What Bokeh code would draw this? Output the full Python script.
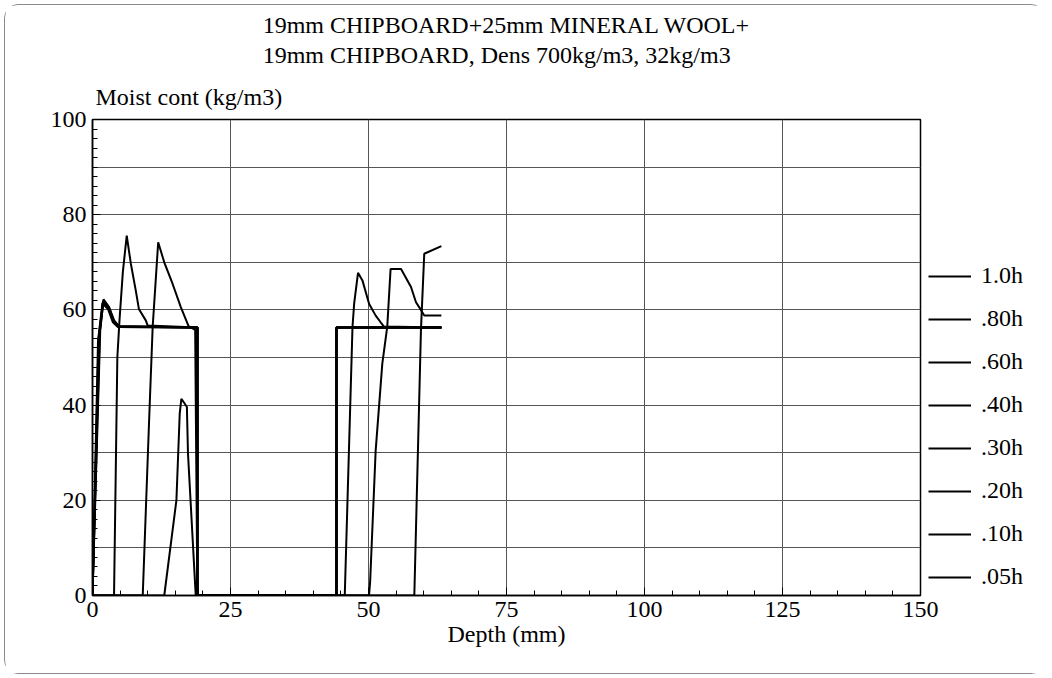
from bokeh.plotting import figure
from bokeh.models import FixedTicker, Legend, LegendItem, Range1d, Title
from bokeh.embed import file_html
from bokeh.resources import INLINE

# ---- data (depth in mm, moisture in kg/m3) ----
labels = ["1.0h", ".80h", ".60h", ".40h", ".30h", ".20h", ".10h", ".05h"]

x_100 = [0, 13.0, 15.2, 15.8, 16.1, 16.6, 17.1, 17.3, 18.7, 58.3, 59.5, 60.1, 63.2]
y_100 = [0, 0, 20.0, 38.2, 41.3, 40.5, 39.6, 29.8, 0, 0, 55.7, 71.8, 73.4]

x_080 = [0, 9.1, 10.3, 10.9, 11.9, 13.0, 14.5, 16.0, 17.4, 18.6, 19.0, 50.1, 50.3, 51.3,
         52.5, 53.4, 54.0, 55.9, 57.7, 58.6, 59.5, 60.1, 63.2]
y_080 = [0, 0, 38.2, 56.4, 74.2, 70.0, 65.5, 60.6, 56.6, 55.8, 0, 0, 3.0, 30.5,
         48.7, 56.5, 68.6, 68.6, 64.8, 61.6, 60.0, 58.8, 58.8]

x_060 = [0, 3.9, 4.5, 4.9, 5.5, 6.2, 6.95, 7.85, 8.4, 9.65, 10.0, 19.0, 19.0, 45.7, 47.1,
         47.4, 48.1, 48.9, 50.1, 51.3, 52.2, 52.8, 63.2]
y_060 = [0, 0, 50.0, 58.0, 68.0, 75.6, 69.7, 64.0, 60.2, 57.8, 56.7, 56.3, 0, 0, 56.4,
         61.3, 67.8, 66.2, 61.3, 58.8, 57.4, 56.5, 56.3]

x_040 = [0, 1.4, 2.0, 3.0, 3.9, 4.8, 19.0, 19.0, 44.2, 44.2, 63.2]
y_040 = [0, 55.7, 62.2, 60.6, 57.8, 56.6, 56.3, 0, 0, 56.3, 56.3]

x_030 = [0, 1.3, 2.0, 3.0, 3.9, 4.8, 19.0, 19.0, 44.2, 44.2, 63.2]
y_030 = [0, 55.0, 62.0, 60.5, 57.7, 56.5, 56.3, 0, 0, 56.3, 56.3]

x_020 = [0, 1.2, 1.9, 2.9, 3.8, 4.7, 19.0, 19.0, 44.2, 44.2, 63.2]
y_020 = [0, 54.5, 61.8, 60.4, 57.6, 56.5, 56.3, 0, 0, 56.3, 56.3]

x_010 = [0, 1.1, 1.9, 2.9, 3.8, 4.7, 19.0, 19.0, 44.2, 44.2, 63.2]
y_010 = [0, 54.0, 61.6, 60.3, 57.5, 56.4, 56.3, 0, 0, 56.3, 56.3]

x_005 = [0, 1.0, 1.8, 2.8, 3.7, 4.6, 19.0, 19.0, 44.2, 44.2, 63.2]
y_005 = [0, 53.5, 61.4, 60.2, 57.4, 56.4, 56.3, 0, 0, 56.3, 56.3]

series_x = [x_100, x_080, x_060, x_040, x_030, x_020, x_010, x_005]
series_y = [y_100, y_080, y_060, y_040, y_030, y_020, y_010, y_005]

x_ticks = [0, 25, 50, 75, 100, 125, 150]
y_ticks = [0, 20, 40, 60, 80, 100]
x_grid = [25, 50, 75, 100, 125]
y_grid = [10, 20, 30, 40, 50, 60, 70, 80, 90]

title_1 = "19mm CHIPBOARD+25mm MINERAL WOOL+"
title_2 = "19mm CHIPBOARD, Dens 700kg/m3, 32kg/m3"
y_title = "Moist cont (kg/m3)"
x_title = "Depth (mm)"

FONT = "Liberation Serif"
FS = "24px"

p = figure(frame_width=828, frame_height=476, x_range=Range1d(0, 150), y_range=Range1d(0, 100),
           output_backend="svg", toolbar_location=None,
           min_border_left=87, min_border_right=126, min_border_top=114, min_border_bottom=78)
p.styles = {"margin-left": "4px", "margin-top": "4px", "width": "1041px",
            "border": "1px solid #8a8a8a", "border-radius": "14px"}
p.background_fill_color = "white"
p.border_fill_color = "white"
p.outline_line_color = "black"
p.outline_line_width = 1.5

x_minor = [v for v in range(0, 151, 5)]
y_minor = [v for v in range(0, 101, 2)]

p.xaxis.ticker = FixedTicker(ticks=x_ticks, minor_ticks=x_minor)
p.yaxis.ticker = FixedTicker(ticks=y_ticks, minor_ticks=y_minor)

for ax in [p.xaxis[0], p.yaxis[0]]:
    ax.axis_line_color = "black"
    ax.axis_line_width = 1.5
    ax.major_tick_in = 8
    ax.major_tick_out = 0
    ax.minor_tick_in = 5
    ax.minor_tick_out = 0
    ax.major_tick_line_color = "black"
    ax.minor_tick_line_color = "black"
    ax.major_label_text_font = FONT
    ax.major_label_text_font_size = FS
    ax.major_label_text_color = "black"
    ax.major_label_standoff = 6

p.xaxis.axis_label = x_title
p.xaxis.axis_label_text_font = FONT
p.xaxis.axis_label_text_font_size = FS
p.xaxis.axis_label_text_font_style = "normal"
p.xaxis.axis_label_text_color = "black"
p.xaxis.axis_label_standoff = 1

p.xgrid.ticker = FixedTicker(ticks=x_grid)
p.ygrid.ticker = FixedTicker(ticks=y_grid)
for g in [p.xgrid[0], p.ygrid[0]]:
    g.grid_line_color = "#555555"
    g.grid_line_width = 1

renderers = []
for xs, ys in zip(series_x, series_y):
    r = p.line(xs, ys, line_color="black", line_width=2)
    renderers.append(r)

legend = Legend(items=[LegendItem(label=l, renderers=[r]) for l, r in zip(labels, renderers)],
                location=(8, 5))
legend.border_line_color = None
legend.background_fill_alpha = 0
legend.label_text_font = FONT
legend.label_text_font_size = FS
legend.label_text_color = "black"
legend.glyph_width = 43
legend.glyph_height = 26
legend.label_height = 26
legend.label_width = 40
legend.spacing = 16
legend.padding = 0
legend.margin = 0
legend.label_standoff = 10
p.add_layout(legend, "right")

# titles: first added sits closest to the plot frame
p.add_layout(Title(text=y_title, align="left", offset=3, standoff=20,
                   text_font=FONT, text_font_size=FS, text_font_style="normal",
                   text_color="black"), "above")
p.add_layout(Title(text=title_1 + "\n" + title_2, align="center", standoff=7,
                   text_font=FONT, text_font_size=FS, text_font_style="normal",
                   text_color="black", text_line_height=1.15), "above")

open("out.html", "w").write(file_html(p, INLINE))
